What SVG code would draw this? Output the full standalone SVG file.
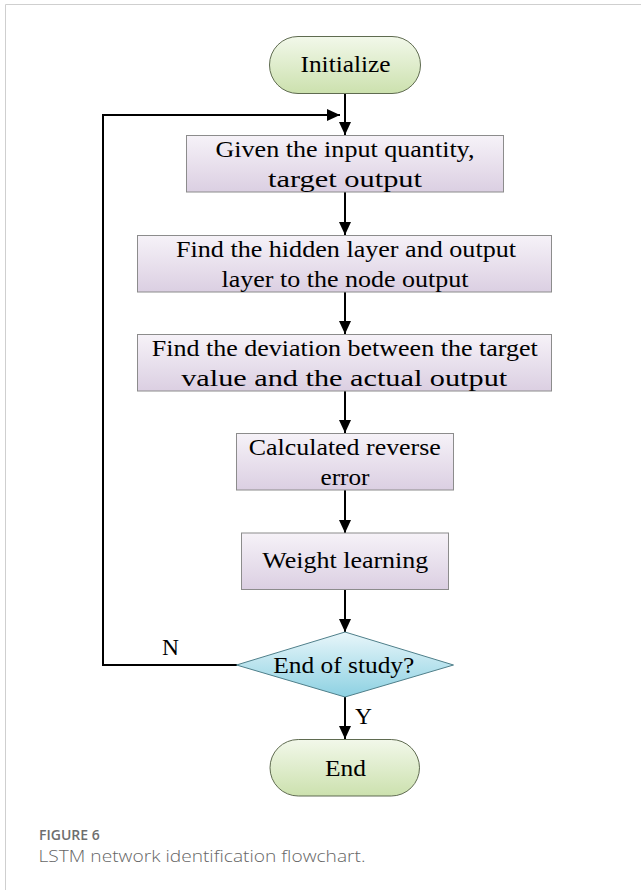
<svg xmlns="http://www.w3.org/2000/svg" width="641" height="890" viewBox="0 0 641 890">
<style>
.t{font-size:23.5px;fill:#000;text-anchor:middle}
.box{fill:url(#gBox);stroke:#8c8c8c;stroke-width:1}
.pill{fill:url(#gPill);stroke:#5f6b50;stroke-width:1}
.dia{fill:url(#gDia);stroke:#4f7f8a;stroke-width:1}
.c{fill:none;stroke:#000;stroke-width:2}
</style>
<defs>
<linearGradient id="gBox" x1="0" y1="0" x2="0" y2="1"><stop offset="0" stop-color="#f6f2f8"/><stop offset="1" stop-color="#dbcfe2"/></linearGradient>
<linearGradient id="gPill" x1="0" y1="0" x2="0" y2="1"><stop offset="0" stop-color="#f2f8ea"/><stop offset="1" stop-color="#cce1ae"/></linearGradient>
<linearGradient id="gDia" x1="0" y1="0" x2="0" y2="1"><stop offset="0" stop-color="#e8f6fa"/><stop offset="1" stop-color="#8dd1e2"/></linearGradient>
<marker id="ah" markerUnits="userSpaceOnUse" markerWidth="14" markerHeight="12" refX="13" refY="6" orient="auto"><path d="M0,0 L13,6 L0,12 Z" fill="#000"/></marker>
</defs>
<rect x="0" y="0" width="641" height="890" fill="#fff"/>
<path d="M5.5,890 V4.5 H641" fill="none" stroke="#cfcfcf" stroke-width="1"/>
<g id="connectors">
<line class="c" x1="345" y1="93" x2="345" y2="135" marker-end="url(#ah)"/>
<path class="c" d="M237,665 H103 V115 H340" marker-end="url(#ah)"/>
<line class="c" x1="345" y1="192" x2="345" y2="235" marker-end="url(#ah)"/>
<line class="c" x1="345" y1="292" x2="345" y2="334" marker-end="url(#ah)"/>
<line class="c" x1="345" y1="391" x2="345" y2="433" marker-end="url(#ah)"/>
<line class="c" x1="345" y1="490" x2="345" y2="533" marker-end="url(#ah)"/>
<line class="c" x1="345" y1="589" x2="345" y2="632" marker-end="url(#ah)"/>
<line class="c" x1="345" y1="697" x2="345" y2="739" marker-end="url(#ah)"/>
</g>
<g font-family="Liberation Serif, Tinos, Times New Roman, Times, serif">
<text class="t" x="170.5" y="655">N</text>
<text class="t" x="363.5" y="724">Y</text>
<g id="initialize">
<rect class="pill" x="269.5" y="36.5" width="151" height="57" rx="28.5"/>
<text class="t" x="345.5" y="72" textLength="90" lengthAdjust="spacingAndGlyphs">Initialize</text>
</g>
<g id="given">
<rect class="box" x="186.5" y="135.5" width="317" height="56.5"/>
<text class="t" x="345" y="157" textLength="259" lengthAdjust="spacingAndGlyphs">Given the input quantity,</text>
<text class="t" x="345" y="186.5" textLength="154" lengthAdjust="spacingAndGlyphs">target output</text>
</g>
<g id="hidden">
<rect class="box" x="137.5" y="235.5" width="414" height="56.5"/>
<text class="t" x="346" y="256.5" textLength="340" lengthAdjust="spacingAndGlyphs">Find the hidden layer and output</text>
<text class="t" x="345" y="286.5" textLength="247" lengthAdjust="spacingAndGlyphs">layer to the node output</text>
</g>
<g id="deviation">
<rect class="box" x="137.5" y="334.5" width="414" height="56.5"/>
<text class="t" x="344.7" y="356" textLength="386" lengthAdjust="spacingAndGlyphs">Find the deviation between the target</text>
<text class="t" x="344.2" y="385.5" textLength="326" lengthAdjust="spacingAndGlyphs">value and the actual output</text>
</g>
<g id="reverse">
<rect class="box" x="236.5" y="433.5" width="217" height="56.5"/>
<text class="t" x="344.8" y="454.5" textLength="192" lengthAdjust="spacingAndGlyphs">Calculated reverse</text>
<text class="t" x="345" y="485" textLength="49" lengthAdjust="spacingAndGlyphs">error</text>
</g>
<g id="weight">
<rect class="box" x="241.5" y="533" width="207" height="56.5"/>
<text class="t" x="345.3" y="568" textLength="166" lengthAdjust="spacingAndGlyphs">Weight learning</text>
</g>
<g id="decision">
<polygon class="dia" points="345,632 453.5,665 345,697 236.5,665"/>
<text class="t" x="343.8" y="672.5" textLength="141" lengthAdjust="spacingAndGlyphs">End of study?</text>
</g>
<g id="end">
<rect class="pill" x="270" y="739.5" width="149.5" height="56.5" rx="28.25"/>
<text class="t" x="345.5" y="776" textLength="41" lengthAdjust="spacingAndGlyphs">End</text>
</g>
</g>
<text x="39" y="839.5" font-family="Open Sans, Noto Sans, sans-serif" font-size="14" font-weight="600" fill="#6e6e6e">FIGURE 6</text>
<text x="38.5" y="862" font-family="Open Sans, Noto Sans, sans-serif" font-size="17" font-weight="300" fill="#666" textLength="327" lengthAdjust="spacingAndGlyphs">LSTM network identification flowchart.</text>
</svg>
